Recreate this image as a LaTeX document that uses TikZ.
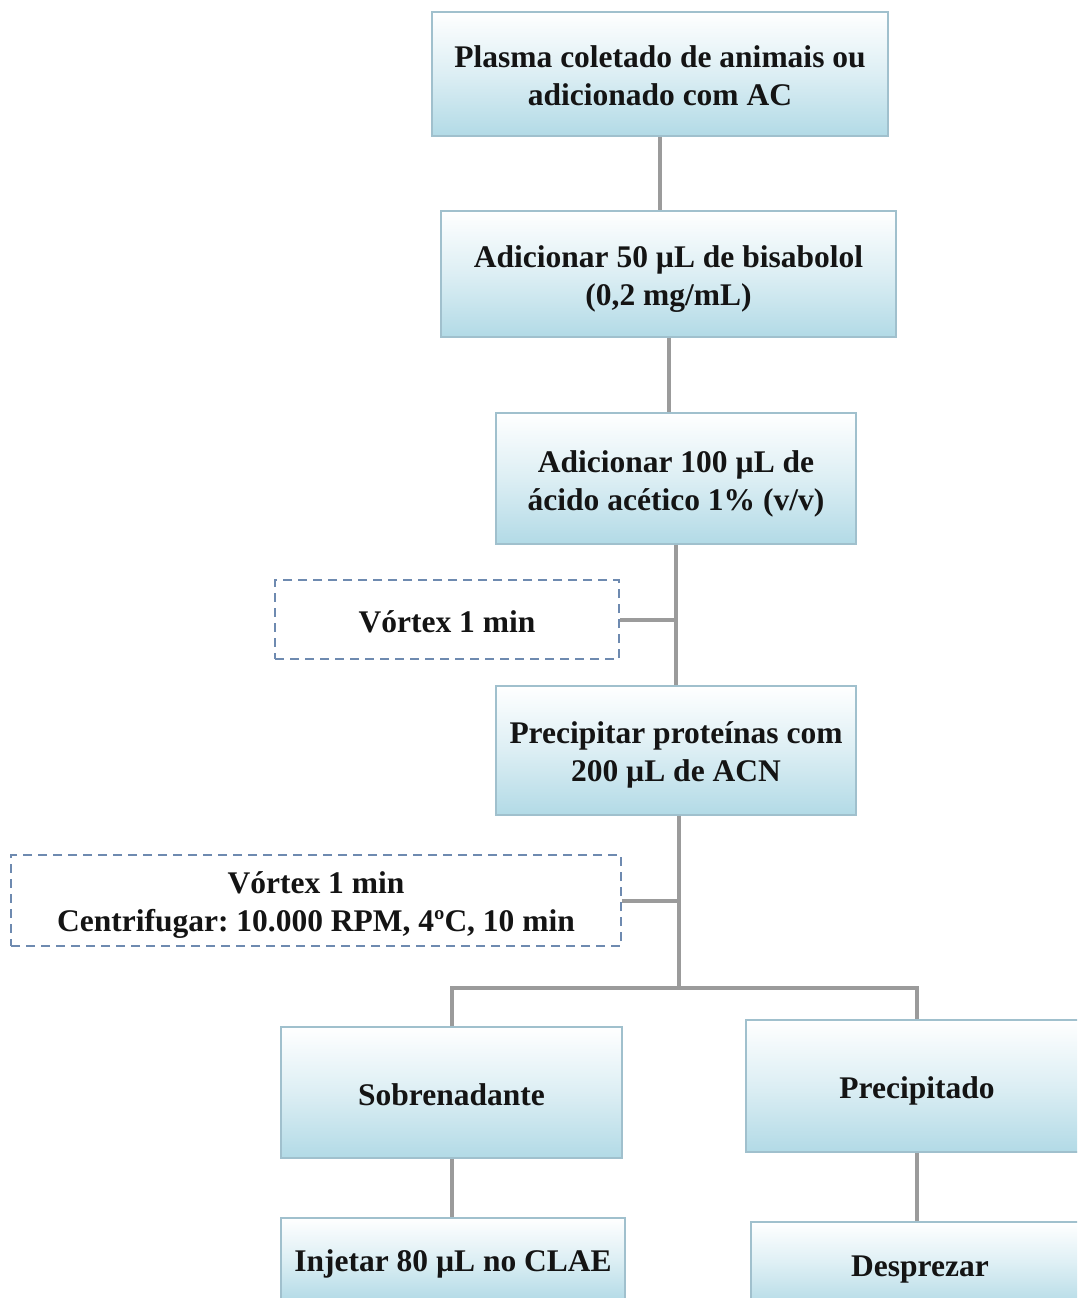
\documentclass[tikz,border=0pt]{standalone}
\usepackage{fontspec}
\setmainfont{Liberation Serif}
\usetikzlibrary{calc}
\frenchspacing
\definecolor{boxblue}{RGB}{178,218,230}
\definecolor{boxline}{RGB}{160,192,205}
\definecolor{dashline}{RGB}{110,138,176}
\definecolor{conn}{RGB}{155,155,155}
\definecolor{txt}{RGB}{20,20,20}
\newcommand\dn[2][4pt]{\raisebox{-#1}[\height][\depth]{#2}}
\tikzset{
  stepbox/.style={draw=boxline, line width=1.2pt, top color=white, bottom color=boxblue,
    middle color=boxblue!45, shading angle=0, inner sep=0pt, align=center,
    font=\fontsize{31.5}{38}\selectfont\bfseries\frenchspacing, text=txt},
  notebox/.style={draw=dashline, line width=1.5pt, dash pattern=on 9pt off 6pt, fill=white,
    inner sep=0pt, align=center, font=\fontsize{31.5}{38}\selectfont\bfseries\frenchspacing, text=txt},
  link/.style={draw=conn, line width=4pt}
}
\begin{document}
\begin{tikzpicture}[x=1pt,y=-1pt]
\clip (0,0) rectangle (1077,1298);
\fill[white] (0,0) rectangle (1077,1298);
% nodes
\node[stepbox, minimum width=456pt, minimum height=124pt] (top) at (660,74) {\dn[2pt]{Plasma coletado de animais ou}\\\dn[2pt]{adicionado com AC}};
\node[stepbox, minimum width=455pt, minimum height=126pt] (b2) at (668.5,274) {\dn[5pt]{Adicionar 50 µL de bisabolol}\\\dn[5pt]{(0,2 mg/mL)}};
\node[stepbox, minimum width=360pt, minimum height=131pt] (b3) at (676,478.5) {\dn[5pt]{Adicionar 100 µL de}\\\dn[5pt]{ácido acético 1\% (v/v)}};
\node[notebox, minimum width=344pt, minimum height=79pt] (d1) at (447,619.5) {\dn[2pt]{Vórtex 1 min}};
\node[stepbox, minimum width=360pt, minimum height=129pt] (b4) at (676,750.5) {\dn[4pt]{Precipitar proteínas com}\\\dn[4pt]{200 µL de ACN}};
\node[notebox, minimum width=610pt, minimum height=91pt] (d2) at (316,900.5) {\dn[5pt]{Vórtex 1 min}\\\dn[5pt]{Centrifugar: 10.000 RPM, 4ºC, 10 min}};
\node[stepbox, minimum width=341pt, minimum height=131pt] (sob) at (451.5,1092.5) {\dn[2pt]{Sobrenadante}};
\node[stepbox, minimum width=342pt, minimum height=132pt] (prec) at (917,1086) {\dn[5pt]{Precipitado}};
\node[stepbox, minimum width=344pt, minimum height=84pt] (inj) at (453,1260) {\dn[4pt]{Injetar 80 µL no CLAE}};
\node[stepbox, minimum width=338pt, minimum height=86pt] (desp) at (920,1265) {\dn[5pt]{Desprezar}};
\coordinate (j) at ($(b4.south)+(3,172)$);
% connectors
\draw[link] (top.south) -- (top.south |- b2.north);
\draw[link] (b2.south) -- (b2.south |- b3.north);
\draw[link] (b3.south) -- (b3.south |- b4.north);
\draw[link] (d1.east) -- (d1.east -| b3.south);
\draw[link] ($(b4.south)+(3,0)$) -- (j);
\draw[link] (d2.east) -- (d2.east -| j);
\draw[link, line join=miter] (sob.north) -- (sob.north |- j) -- (prec.north |- j) -- (prec.north);
\draw[link] (sob.south) -- (sob.south |- inj.north);
\draw[link] (prec.south) -- (prec.south |- desp.north);
\end{tikzpicture}
\end{document}
